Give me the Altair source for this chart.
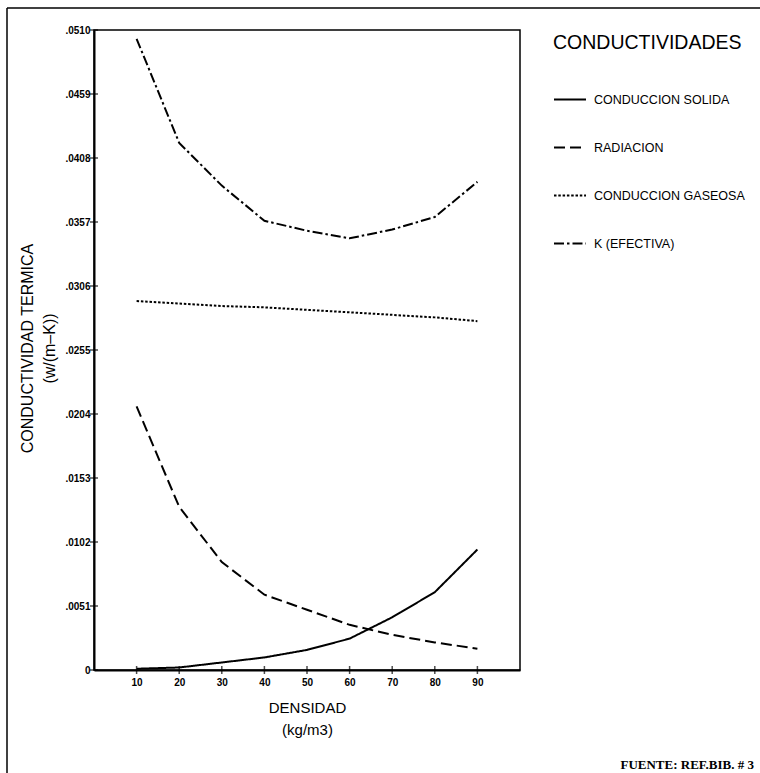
import altair as alt
import pandas as pd

# Densidad (kg/m3) y conductividades (W/(m-K)) por mecanismo
densidad = [10, 20, 30, 40, 50, 60, 70, 80, 90]
conduccion_solida = [0.0001, 0.0002, 0.0006, 0.0010, 0.0016, 0.0025, 0.0042, 0.0062, 0.0096]
radiacion = [0.0210, 0.0130, 0.0086, 0.0060, 0.0048, 0.0036, 0.0028, 0.0022, 0.0017]
conduccion_gaseosa = [0.0294, 0.0292, 0.0290, 0.0289, 0.0287, 0.0285, 0.0283, 0.0281, 0.0278]
k_efectiva = [0.0503, 0.0420, 0.0386, 0.0358, 0.0350, 0.0344, 0.0351, 0.0361, 0.0389]

series = ["CONDUCCION SOLIDA", "RADIACION", "CONDUCCION GASEOSA", "K (EFECTIVA)"]
valores = [conduccion_solida, radiacion, conduccion_gaseosa, k_efectiva]
trazos = [[1, 0], [11, 5], [2.5, 1.8], [10, 3, 2.5, 3]]

x_ticks = [10, 20, 30, 40, 50, 60, 70, 80, 90]
y_ticks = [0, 0.0051, 0.0102, 0.0153, 0.0204, 0.0255, 0.0306, 0.0357, 0.0408, 0.0459, 0.0510]

fuente = "FUENTE: REF.BIB. # 3"

rows = []
for nombre, vals in zip(series, valores):
    for d, v in zip(densidad, vals):
        rows.append({"densidad": d, "k": v, "serie": nombre})
df = pd.DataFrame(rows)

x_scale = alt.Scale(domain=[0, 100], nice=False, zero=False)
y_scale = alt.Scale(domain=[0, 0.051], nice=False, zero=False)

x_axis = alt.Axis(
    values=x_ticks,
    ticks=False,
    labelPadding=7,
    labelFont="Liberation Sans",
    labelFontSize=10,
    labelFontWeight="bold",
    title=["DENSIDAD", "(kg/m3)"],
    titleFont="Liberation Sans",
    titleFontSize=15,
    titleFontWeight="normal",
    titleLineHeight=22,
    titleX=213,
    titleY=37,
    titleAlign="center",
    titleBaseline="middle",
)
y_axis = alt.Axis(
    values=y_ticks,
    ticks=False,
    labelPadding=4,
    labelFont="Liberation Sans",
    labelFontSize=10,
    labelFontWeight="bold",
    labelExpr="datum.value == 0 ? '0' : replace(format(datum.value, '.4f'), '0.', '.')",
    title=["CONDUCTIVIDAD TERMICA", "(w/(m\u2013K))"],
    titleFont="Liberation Sans",
    titleFontSize=16,
    titleFontWeight="normal",
    titleLineHeight=22,
    titleX=-67,
    titleY=318,
    titleAngle=270,
    titleAlign="center",
    titleBaseline="middle",
)

x_enc = alt.X("densidad:Q", scale=x_scale, axis=x_axis)
y_enc = alt.Y("k:Q", scale=y_scale, axis=y_axis)

lines = alt.Chart(df).mark_line(color="black", strokeWidth=2).encode(
    x=x_enc,
    y=y_enc,
    strokeDash=alt.StrokeDash(
        "serie:N",
        scale=alt.Scale(domain=series, range=trazos),
        legend=alt.Legend(
            title="CONDUCTIVIDADES",
            orient="none",
            legendX=459,
            legendY=4,
            direction="vertical",
            padding=0,
            titleFont="Liberation Sans",
            titleFontSize=19.5,
            titleFontWeight="normal",
            titleColor="black",
            titleLimit=400,
            titlePadding=29,
            labelFont="Liberation Sans",
            labelFontSize=12.5,
            labelColor="black",
            labelLimit=300,
            labelOffset=7,
            symbolType="stroke",
            symbolSize=1024,
            symbolStrokeWidth=2,
            symbolStrokeColor="black",
            rowPadding=24,
        ),
    ),
)

# Marcas de graduación que cruzan los ejes
yt = pd.DataFrame({"densidad": [0] * len(y_ticks), "k": y_ticks})
xt = pd.DataFrame({"densidad": x_ticks, "k": [0] * len(x_ticks)})

y_marks = alt.Chart(yt).mark_tick(orient="horizontal", size=8, thickness=1.5, color="black").encode(
    x=x_enc, y=y_enc
)
x_marks = alt.Chart(xt).mark_tick(orient="vertical", size=8, thickness=1.5, color="black").encode(
    x=x_enc, y=y_enc
)

# Marco de la lámina (arriba e izquierda)
uno = pd.DataFrame({"t": [fuente]})
marco_izq = alt.Chart(uno).mark_rule(color="black", strokeWidth=1.5).encode(
    x=alt.value(-87), y=alt.value(-22), y2=alt.value(743)
)
marco_sup = alt.Chart(uno).mark_rule(color="black", strokeWidth=1.5).encode(
    x=alt.value(-87), x2=alt.value(666), y=alt.value(-22)
)

nota = alt.Chart(uno).mark_text(
    font="Liberation Serif", fontWeight="bold", fontSize=13, align="right", baseline="middle", color="black"
).encode(x=alt.value(660), y=alt.value(735), text="t:N")

chart = (
    alt.layer(lines, y_marks, x_marks, marco_izq, marco_sup, nota)
    .properties(
        width=426,
        height=640,
        padding={"left": 94, "top": 30, "right": 240, "bottom": 103},
        autosize=alt.AutoSizeParams(type="none"),
        background="white",
    )
    .configure_view(stroke="black", strokeWidth=1.5)
    .configure_axis(domainColor="black", domainWidth=2, labelColor="black", titleColor="black", grid=False)
)

chart.save("out.html", embed_options={"renderer": "svg", "actions": False})
